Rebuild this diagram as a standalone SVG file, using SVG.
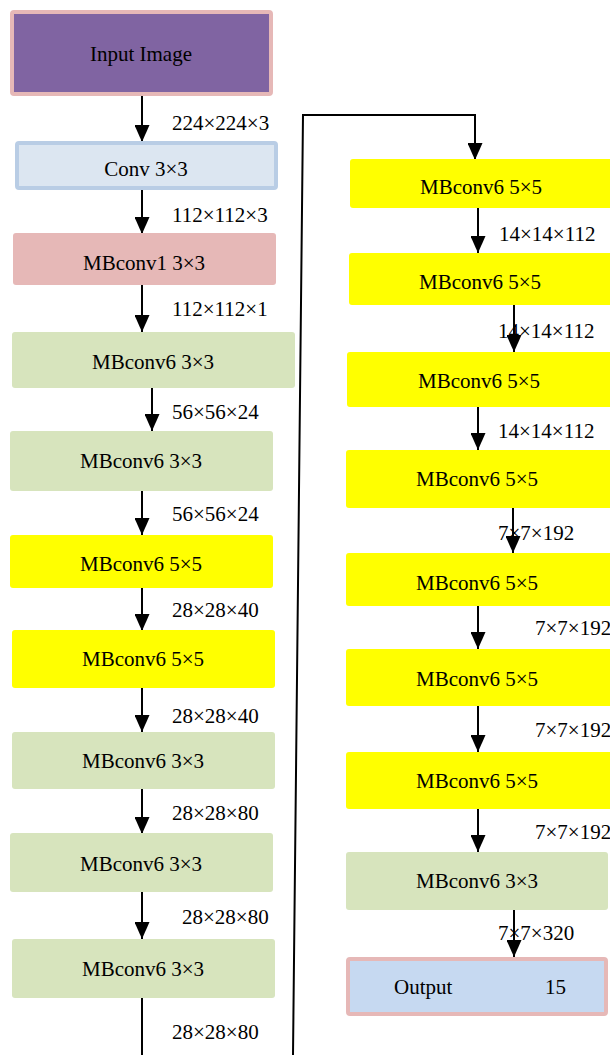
<svg xmlns="http://www.w3.org/2000/svg" width="610" height="1055" viewBox="0 0 610 1055">
<style>
text{font-family:"Liberation Serif","Times New Roman",serif;font-size:21px;fill:#000}
.c{text-anchor:middle}
.yel{fill:#FFFF00}
.grn{fill:#D7E4BD}
.pnk{fill:#E6B8B7}
.ln{stroke:#000;stroke-width:2;fill:none}
</style>
<defs>
<marker id="ah" markerUnits="userSpaceOnUse" markerWidth="17" markerHeight="15" viewBox="0 0 17 15" refX="17" refY="7.5" orient="auto">
<path d="M0,0 L17,7.5 L0,15 z" fill="#000"/>
</marker>
</defs>
<g id="connectors">
<line class="ln" x1="142" y1="95" x2="142" y2="142" marker-end="url(#ah)"/>
<line class="ln" x1="142" y1="190" x2="142" y2="234" marker-end="url(#ah)"/>
<line class="ln" x1="142" y1="285" x2="142" y2="332" marker-end="url(#ah)"/>
<line class="ln" x1="152" y1="388" x2="152" y2="431" marker-end="url(#ah)"/>
<line class="ln" x1="142" y1="491" x2="142" y2="535" marker-end="url(#ah)"/>
<line class="ln" x1="142" y1="588" x2="142" y2="631" marker-end="url(#ah)"/>
<line class="ln" x1="142" y1="688" x2="142" y2="732" marker-end="url(#ah)"/>
<line class="ln" x1="142" y1="789" x2="142" y2="834" marker-end="url(#ah)"/>
<line class="ln" x1="142" y1="892" x2="142" y2="939" marker-end="url(#ah)"/>
<line class="ln" x1="142" y1="998" x2="142" y2="1055"/>
<polyline class="ln" points="293,1055 303,115 475,115 475,160" marker-end="url(#ah)"/>
<line class="ln" x1="478" y1="208" x2="478" y2="253" marker-end="url(#ah)"/>
<line class="ln" x1="514" y1="305" x2="514" y2="352" marker-end="url(#ah)"/>
<line class="ln" x1="478" y1="407" x2="478" y2="450" marker-end="url(#ah)"/>
<line class="ln" x1="513" y1="508" x2="513" y2="553" marker-end="url(#ah)"/>
<line class="ln" x1="478" y1="606" x2="478" y2="649" marker-end="url(#ah)"/>
<line class="ln" x1="478" y1="706" x2="478" y2="752" marker-end="url(#ah)"/>
<line class="ln" x1="478" y1="809" x2="478" y2="852" marker-end="url(#ah)"/>
<line class="ln" x1="514" y1="910" x2="514" y2="957" marker-end="url(#ah)"/>
</g>
<g id="labels">
<text x="172" y="130">224×224×3</text>
<text x="172" y="222">112×112×3</text>
<text x="172" y="316">112×112×1</text>
<text x="172" y="419">56×56×24</text>
<text x="172" y="521">56×56×24</text>
<text x="172" y="617">28×28×40</text>
<text x="172" y="723">28×28×40</text>
<text x="172" y="820">28×28×80</text>
<text x="182" y="924">28×28×80</text>
<text x="172" y="1039">28×28×80</text>
<text x="499" y="241">14×14×112</text>
<text x="498" y="338">14×14×112</text>
<text x="498" y="438">14×14×112</text>
<text x="498" y="540">7×7×192</text>
<text x="535" y="635">7×7×192</text>
<text x="535" y="737">7×7×192</text>
<text x="535" y="839">7×7×192</text>
<text x="498" y="940">7×7×320</text>
</g>
<g id="input"><rect x="12" y="12" width="259" height="82" rx="2" fill="#8064A2" stroke="#E6B8B7" stroke-width="4"/><text class="c" x="141" y="61">Input Image</text></g>
<g id="conv"><rect x="17" y="143" width="259" height="45" rx="2" fill="#DCE6F1" stroke="#B9CDE5" stroke-width="4"/><text class="c" x="146" y="176">Conv 3×3</text></g>
<g id="mb1"><rect class="pnk" x="13" y="233" width="263" height="52" rx="3"/><text class="c" x="144" y="270">MBconv1 3×3</text></g>
<g id="mb6a"><rect class="grn" x="12" y="332" width="283" height="56" rx="3"/><text class="c" x="153" y="369">MBconv6 3×3</text></g>
<g id="mb6b"><rect class="grn" x="10" y="431" width="263" height="60" rx="3"/><text class="c" x="141" y="468">MBconv6 3×3</text></g>
<g id="mb6c"><rect class="yel" x="10" y="535" width="263" height="53" rx="3"/><text class="c" x="141" y="571">MBconv6 5×5</text></g>
<g id="mb6d"><rect class="yel" x="12" y="630" width="263" height="58" rx="3"/><text class="c" x="143" y="666">MBconv6 5×5</text></g>
<g id="mb6e"><rect class="grn" x="12" y="732" width="263" height="57" rx="3"/><text class="c" x="143" y="768">MBconv6 3×3</text></g>
<g id="mb6f"><rect class="grn" x="10" y="833" width="263" height="59" rx="3"/><text class="c" x="141" y="871">MBconv6 3×3</text></g>
<g id="mb6g"><rect class="grn" x="12" y="939" width="263" height="59" rx="3"/><text class="c" x="143" y="976">MBconv6 3×3</text></g>
<g id="r1"><rect class="yel" x="350" y="159" width="262" height="49" rx="3"/><text class="c" x="481" y="194">MBconv6 5×5</text></g>
<g id="r2"><rect class="yel" x="349" y="253" width="263" height="52" rx="3"/><text class="c" x="480" y="289">MBconv6 5×5</text></g>
<g id="r3"><rect class="yel" x="347" y="352" width="265" height="55" rx="3"/><text class="c" x="479" y="388">MBconv6 5×5</text></g>
<g id="r4"><rect class="yel" x="346" y="450" width="266" height="58" rx="3"/><text class="c" x="477" y="486">MBconv6 5×5</text></g>
<g id="r5"><rect class="yel" x="346" y="553" width="266" height="53" rx="3"/><text class="c" x="477" y="590">MBconv6 5×5</text></g>
<g id="r6"><rect class="yel" x="346" y="649" width="266" height="57" rx="3"/><text class="c" x="477" y="686">MBconv6 5×5</text></g>
<g id="r7"><rect class="yel" x="346" y="752" width="266" height="57" rx="3"/><text class="c" x="477" y="788">MBconv6 5×5</text></g>
<g id="r8"><rect class="grn" x="346" y="852" width="262" height="58" rx="3"/><text class="c" x="477" y="888">MBconv6 3×3</text></g>
<g id="output"><rect x="348" y="959" width="258" height="55" rx="2" fill="#C6D9F1" stroke="#E6B8B7" stroke-width="4"/><text x="394" y="994">Output</text><text x="545" y="994">15</text></g>
</svg>
